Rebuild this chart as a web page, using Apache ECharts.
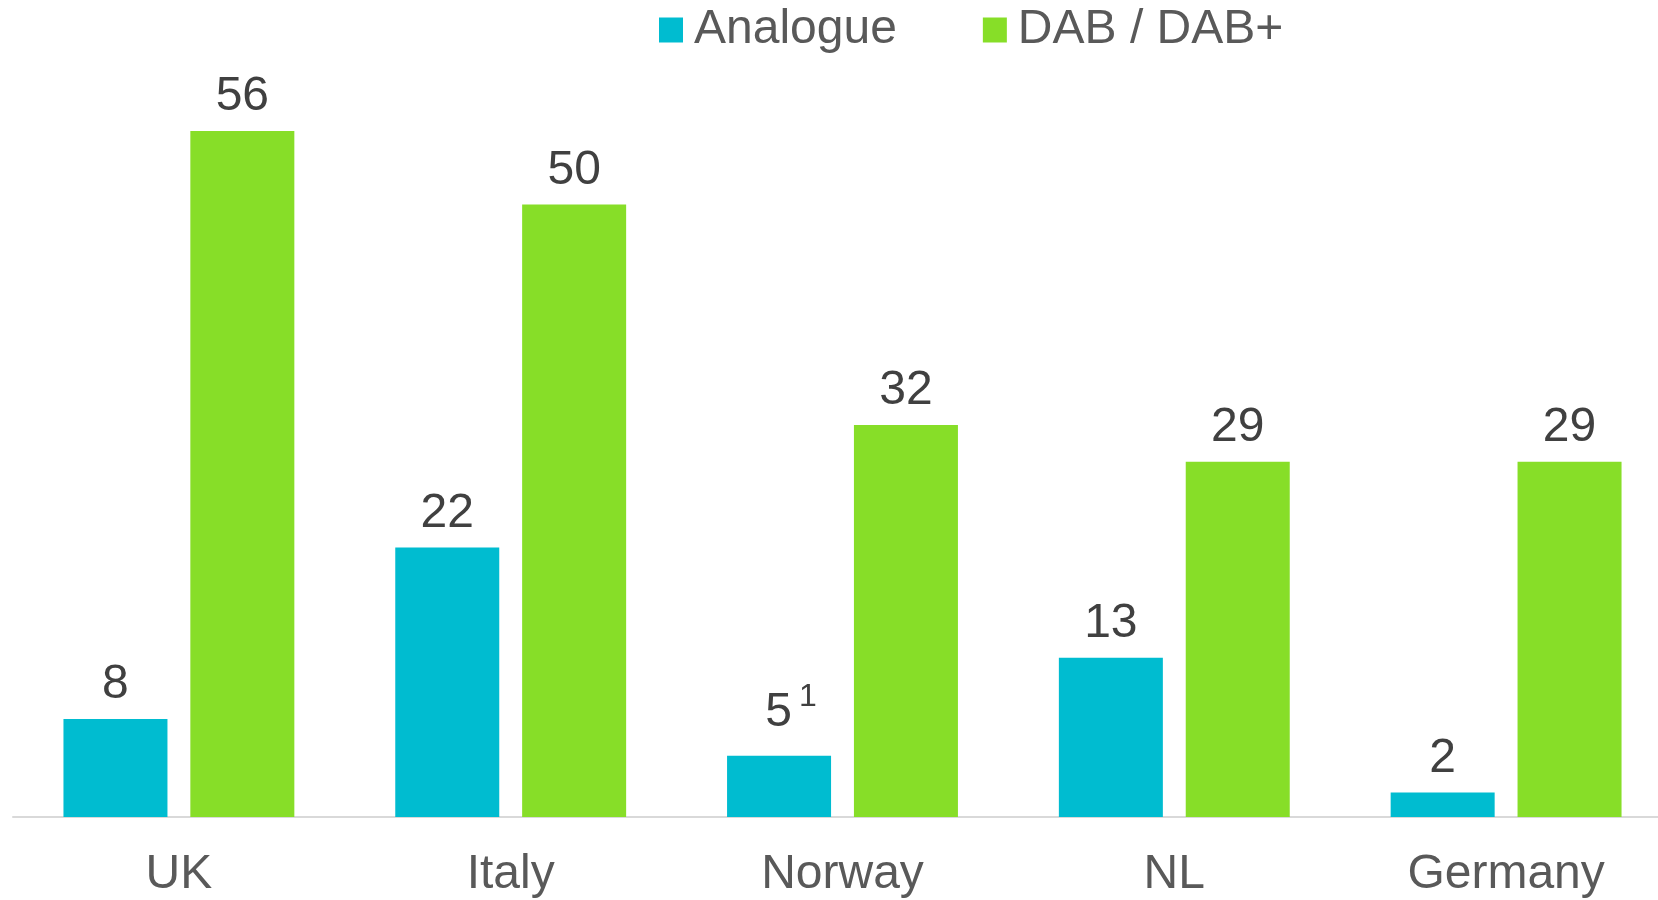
<!DOCTYPE html>
<html>
<head>
<meta charset="utf-8">
<title>Analogue vs DAB</title>
<script src="https://cdn.jsdelivr.net/npm/echarts@6/dist/echarts.min.js"></script>
<style>
  html, body { margin: 0; padding: 0; background: #fff; }
  #chart { width: 1658px; height: 900px; }
</style>
</head>
<body>
<div id="chart"></div>
<script>
// data
const countries = ['UK', 'Italy', 'Norway', 'NL', 'Germany']
const analogue = [8, 22, 5, 13, 2]
const dab = [56, 50, 32, 29, 29]
// footnote marker shown next to a value (index -> text)
const analogueNotes = ['', '', '1', '', '']

const chart = echarts.init(document.getElementById('chart'))

const font = 'Liberation Sans, Arial, sans-serif'

const valueLabel = {
  show: true,
  position: 'top',
  distance: 10,
  color: '#404040',
  fontSize: 48,
  fontFamily: font
}

const option = {
  animation: false,
  legend: {
    top: 1,
    left: 654,
    itemWidth: 24,
    itemHeight: 25,
    itemGap: 86,
    icon: 'rect',
    textStyle: {
      color: '#595959',
      fontSize: 48,
      fontFamily: font,
      padding: [0, 0, 0, 6]
    },
    data: ['Analogue', 'DAB / DAB+']
  },
  grid: {
    left: 13,
    width: 1659,
    top: 82,
    bottom: 83,
    outerBoundsMode: 'none',
    containLabel: false
  },
  xAxis: {
    type: 'category',
    data: countries,
    axisTick: { show: false },
    axisLine: { lineStyle: { color: '#d9d9d9', width: 2 } },
    axisLabel: {
      color: '#595959',
      fontSize: 48,
      fontFamily: font,
      margin: 34
    }
  },
  yAxis: {
    type: 'value',
    min: 0,
    max: 60,
    show: false,
    splitLine: { show: false }
  },
  series: [
    {
      name: 'Analogue',
      type: 'bar',
      barWidth: 104,
      barGap: '22%',
      itemStyle: { color: '#00bcd0' },
      label: Object.assign({}, valueLabel, {
        formatter: p => analogueNotes[p.dataIndex]
          ? '{v|' + p.value + '}{s|' + analogueNotes[p.dataIndex] + '}'
          : '{v|' + p.value + '}',
        rich: {
          v: { color: '#404040', fontSize: 48, fontFamily: font },
          s: { color: '#404040', fontSize: 32, fontFamily: font, verticalAlign: 'top', padding: [0, 0, 33, 7] }
        }
      }),
      data: analogue.map((v, i) => analogueNotes[i]
        ? { value: v, label: { offset: [12, 0] } }
        : v)
    },
    {
      name: 'DAB / DAB+',
      type: 'bar',
      barWidth: 104,
      itemStyle: { color: '#87de28' },
      label: valueLabel,
      data: dab
    }
  ]
}

chart.setOption(option)
</script>
</body>
</html>
